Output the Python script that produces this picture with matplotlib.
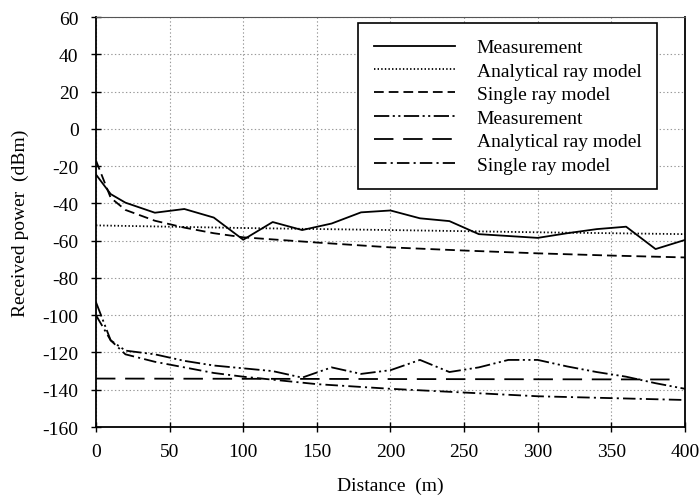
import numpy as np
import matplotlib
matplotlib.use('Agg')
import matplotlib.pyplot as plt

plt.rcParams['font.family'] = ['Liberation Serif', 'DejaVu Serif']
plt.rcParams['axes.unicode_minus'] = False
plt.rcParams['lines.scale_dashes'] = False

# upper group
meas_x = [0, 10, 20, 40, 60, 80, 100, 120, 140, 160, 180, 200, 220, 240, 260, 280, 300, 320, 340, 360, 380, 400]
meas_y = [-24.5, -35, -39.6, -45, -43, -47.6, -59.5, -50, -54.3, -50.8, -44.8, -43.8, -48, -49.5, -56.5, -57.5, -58.5, -56, -53.8, -52.5, -64.5, -59.6]

anal_x = [0, 100, 200, 300, 400]
anal_y = [-51.8, -53.2, -54.3, -55.5, -56.5]

single_x = [0, 10, 20, 40, 60, 80, 100, 150, 200, 250, 300, 350, 400]
single_y = [-17, -37, -43.5, -49.3, -53, -56, -58.2, -61, -63.6, -65.3, -66.8, -68, -69]

# lower group
meas2_x = [0, 10, 20, 40, 60, 80, 100, 120, 140, 160, 180, 200, 220, 240, 260, 280, 300, 320, 340, 360, 380, 400]
meas2_y = [-93, -113.5, -119, -121, -124.5, -127, -128.5, -130, -133.5, -128, -131.5, -129.5, -124, -130.5, -128, -124, -124, -127.5, -130.5, -133, -136.5, -139.5]

anal2_x = [0, 395]
anal2_y = [-134, -134.5]

single2_x = [0, 10, 20, 40, 60, 80, 100, 150, 200, 250, 300, 350, 400]
single2_y = [-100, -113.5, -121, -125, -128, -131, -133, -137, -139.5, -141.5, -143.5, -144.5, -145.5]

fig = plt.figure(figsize=(6.99, 5.02), dpi=100)
ax = fig.add_axes([0.1373, 0.1474, 0.8427, 0.8166])

lw = 1.3
ax.plot(meas_x, meas_y, color='black', lw=lw, label='Measurement')
ax.plot(anal_x, anal_y, color='black', lw=lw, linestyle=(0, (1, 1.6)), label='Analytical ray model')
ax.plot(single_x, single_y, color='black', lw=lw, linestyle=(0, (7, 3.6)), label='Single ray model')
ax.plot(meas2_x, meas2_y, color='black', lw=lw, linestyle=(0, (11, 2.5, 1.5, 2.5, 1.5, 2.5)), label='Measurement')
ax.plot(anal2_x, anal2_y, color='black', lw=lw, linestyle=(0, (14, 7)), label='Analytical ray model')
ax.plot(single2_x, single2_y, color='black', lw=lw, linestyle=(0, (9, 3, 1.5, 3)), label='Single ray model')

ax.set_xlim(0, 400)
ax.set_ylim(-160, 60)
ax.set_xticks(np.arange(0, 401, 50))
ax.set_yticks(np.arange(-160, 61, 20))
ax.grid(True, color='#9a9a9a', linestyle=':', linewidth=0.8)
ax.tick_params(direction='inout', length=7, width=1, labelsize=14)
ax.tick_params(axis='x', pad=8)
ax.tick_params(axis='y', pad=9)
for side in ['left', 'bottom', 'right']:
    ax.spines[side].set_linewidth(1.3)
ax.spines['top'].set_linewidth(0.8)
ax.spines['top'].set_color('#555555')

ax.set_xlabel('Distance  (m)', fontsize=14, labelpad=12)
ax.set_ylabel('Received power  (dBm)', fontsize=14, labelpad=10)

leg = ax.legend(loc='upper right', bbox_to_anchor=(0.9525, 0.985), fontsize=14,
                handlelength=4.2, handletextpad=1.1, borderpad=0.8, labelspacing=0.3,
                fancybox=False, framealpha=1, edgecolor='black', borderaxespad=0)
leg.get_frame().set_linewidth(1.2)

fig.savefig('out.png', dpi=100)
